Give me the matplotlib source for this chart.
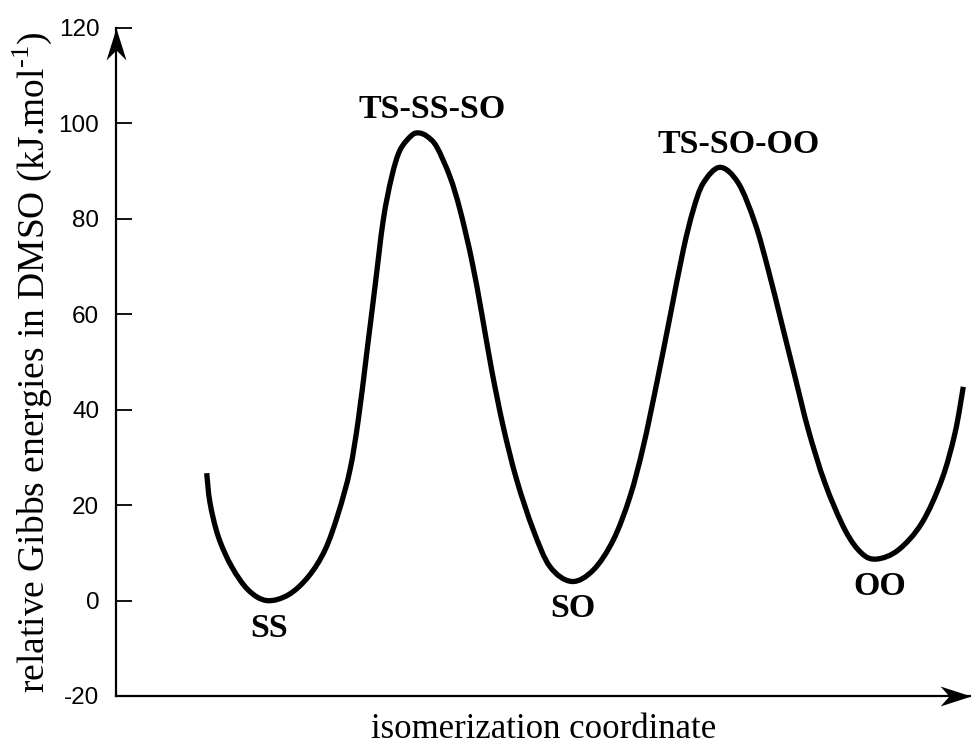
import numpy as np
import matplotlib
matplotlib.use("Agg")
import matplotlib.pyplot as plt
from matplotlib.path import Path
from matplotlib.patches import PathPatch

# reaction coordinate (arbitrary units) and relative Gibbs energy (kJ/mol)
coord = [9.07, 9.4, 10.23, 11.57, 13.23, 15.07, 17.23, 19.23, 20.9, 22.23,
         23.4, 24.23, 25.07, 25.9, 26.73, 27.57, 28.4, 29.57, 30.3, 31.1, 32.07,
         33.4, 34.4, 35.57, 36.57, 37.57, 38.73, 40.07, 41.73, 43.4, 45.57,
         47.73, 49.73, 51.4, 52.73, 54.07, 55.4, 56.73, 57.73, 58.73,
         60.4, 62.23, 63.9, 65.23, 66.57, 67.9, 69.23, 70.9, 72.9, 74.57,
         76.07, 78.23, 80.57, 82.57, 83.9, 84.73]
energy = [26.7, 20.5, 13.4, 7.1, 2.2, 0.0, 1.2, 5.0, 10.6, 18.3,
          27.4, 37.9, 51.8, 65.8, 79.8, 88.8, 94.4, 97.5, 98.0, 97.3, 95.1,
          88.8, 81.9, 71.4, 60.2, 48.3, 36.4, 25.3, 14.8, 7.1, 4.0,
          6.4, 12.7, 21.8, 32.3, 45.5, 59.5, 73.5, 81.9, 87.5,
          90.8, 87.5, 79.1, 69.3, 58.1, 46.9, 35.8, 24.6, 14.8, 9.9,
          8.7, 10.6, 16.2, 25.3, 35.1, 44.8]

states = ["SS", "TS-SS-SO", "SO", "TS-SO-OO", "OO"]
state_x = [15.3, 31.6, 45.7, 62.3, 76.4]
state_label_y = [-7.6, 101.1, -3.4, 93.75, 1.2]

yticks = [-20, 0, 20, 40, 60, 80, 100, 120]

fig = plt.figure(figsize=(9.71, 7.45), dpi=100)
ax = fig.add_axes([116 / 971, 49 / 745, 855 / 971, 668 / 745])

# smooth drawing of the read points: cubic bezier pieces through every point
pts = np.column_stack([coord, energy])
ext = np.vstack([pts[0], pts, pts[-1]])
verts = [tuple(pts[0])]
codes = [Path.MOVETO]
for i in range(len(pts) - 1):
    p0, p1, p2, p3 = ext[i], ext[i + 1], ext[i + 2], ext[i + 3]
    verts += [tuple(p1 + (p2 - p0) / 6), tuple(p2 - (p3 - p1) / 6), tuple(p2)]
    codes += [Path.CURVE4] * 3
ax.add_patch(PathPatch(Path(verts, codes), fill=False, edgecolor="black",
                       lw=3.8, capstyle="butt", joinstyle="round"))

for name, x, y in zip(states, state_x, state_label_y):
    ax.text(x, y, name, ha="center", va="baseline", fontsize=24.5,
            fontweight="bold", family="Liberation Serif")

ax.set_xlim(0, 85.5)
ax.set_ylim(-20, 120)
ax.set_xticks([])
ax.set_yticks(yticks)
ax.set_yticklabels([str(t) for t in yticks], family="Liberation Sans", fontsize=17.5)
ax.tick_params(axis="y", direction="in", length=11.5, width=1.3, pad=12)

for side in ["top", "right"]:
    ax.spines[side].set_visible(False)
for side in ["left", "bottom"]:
    ax.spines[side].set_linewidth(1.6)

# arrow heads at the end of the axes
up = Path([(0, 0), (10, -32), (0, -22), (-10, -32), (0, 0)],
          [Path.MOVETO, Path.LINETO, Path.LINETO, Path.LINETO, Path.CLOSEPOLY])
right = Path([(0, 0), (-31, 10), (-22, 0), (-31, -10), (0, 0)],
             [Path.MOVETO, Path.LINETO, Path.LINETO, Path.LINETO, Path.CLOSEPOLY])
ax.plot([0], [1], marker=up, ms=46, color="black", mew=0,
        transform=ax.transAxes, clip_on=False)
ax.plot([1], [0], marker=right, ms=44.6, color="black", mew=0,
        transform=ax.transAxes, clip_on=False)

ax.set_ylabel("relative Gibbs energies in DMSO (kJ.mol$^{\\mathregular{\u20101}}$)",
              family="Liberation Serif", fontsize=27)
ax.yaxis.set_label_coords(-0.073, 0.5)
ax.set_xlabel("isomerization coordinate", family="Liberation Serif", fontsize=25)
ax.xaxis.set_label_coords(0.5, -0.025)

fig.savefig("out.png", dpi=100)
